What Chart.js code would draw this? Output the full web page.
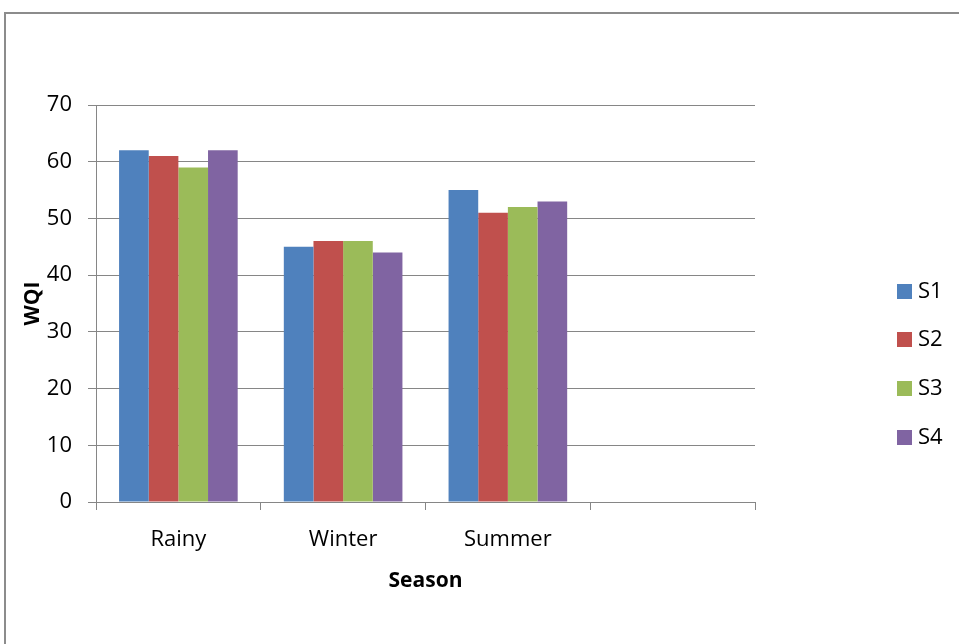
<!DOCTYPE html>
<html>
<head>
<meta charset="utf-8">
<script src="https://cdn.jsdelivr.net/npm/chart.js@4.4.0/dist/chart.umd.min.js"></script>
<style>
  html, body { margin: 0; padding: 0; background: #fff; }
  #wrap { position: relative; width: 959px; height: 644px; overflow: hidden; }
  #frame { position: absolute; left: 4px; top: 12px; width: 1000px; height: 700px;
           border-left: 2px solid #8c8c8c; border-top: 2px solid #8c8c8c; }
  canvas { position: absolute; left: 0; top: 0; }
</style>
</head>
<body>
<div id="wrap">
  <div id="frame"></div>
  <canvas id="plotWQI" width="959" height="644"></canvas>
</div>
<script>
// dados do grafico
const seasons = ["Rainy", "Winter", "Summer", ""];
const s1 = [62, 45, 55, null];
const s2 = [61, 46, 51, null];
const s3 = [59, 46, 52, null];
const s4 = [62, 44, 53, null];
const seriesNames = ["S1", "S2", "S3", "S4"];
const seriesColors = ["#4F81BD", "#C0504D", "#9BBB59", "#8064A2"];
const yTicks = [0, 10, 20, 30, 40, 50, 60, 70];

const fontFamily = "'Open Sans', 'Noto Sans', sans-serif";
const gridColor = "#868686";

// legenda desenhada ao lado, como no original
const sideLegend = {
    id: 'sideLegend',
    afterDraw(chart) {
        const ctx = chart.ctx;
        const rows = [291, 339, 388, 437];
        ctx.save();
        ctx.font = "22px " + fontFamily;
        ctx.textBaseline = 'middle';
        ctx.textAlign = 'left';
        chart.data.datasets.forEach((ds, i) => {
            ctx.fillStyle = ds.backgroundColor;
            ctx.fillRect(897, rows[i] - 7, 15, 15);
            ctx.fillStyle = '#000';
            ctx.fillText(ds.label, 918, rows[i] + 1);
        });
        ctx.restore();
    }
};

const allSeries = [s1, s2, s3, s4];

new Chart(document.getElementById("plotWQI"), {
    type: 'bar',
    data: {
        labels: seasons,
        datasets: allSeries.map((vals, i) => ({
            label: seriesNames[i],
            data: vals,
            backgroundColor: seriesColors[i],
            borderWidth: 0,
            barPercentage: 1,
            categoryPercentage: 0.72
        }))
    },
    options: {
        responsive: false,
        animation: false,
        layout: { padding: { left: 0, top: 105, right: 204, bottom: 0 } },
        plugins: {
            legend: { display: false },
            tooltip: { enabled: false }
        },
        scales: {
            x: {
                afterFit(scale) { scale.height = 142; },
                grid: {
                    offset: true,
                    drawOnChartArea: false,
                    tickLength: 8,
                    color: gridColor,
                    lineWidth: 1
                },
                border: { display: true, color: gridColor, width: 1 },
                ticks: {
                    color: '#000',
                    padding: 17,
                    font: { family: fontFamily, size: 22 }
                },
                title: {
                    display: true,
                    text: 'Season',
                    color: '#000',
                    padding: { top: 0, bottom: 50 },
                    font: { family: fontFamily, size: 21, weight: 'bold' }
                }
            },
            y: {
                min: 0,
                max: 70,
                afterFit(scale) { scale.width = 96; },
                afterBuildTicks(scale) { scale.ticks = yTicks.map(v => ({ value: v })); },
                grid: {
                    tickLength: 8,
                    color: gridColor,
                    lineWidth: 1
                },
                border: { display: true, color: gridColor, width: 1 },
                ticks: {
                    color: '#000',
                    padding: 16,
                    font: { family: fontFamily, size: 22 }
                },
                title: {
                    display: true,
                    text: 'WQI',
                    color: '#000',
                    padding: { top: 20, bottom: 0 },
                    font: { family: fontFamily, size: 21, weight: 'bold' }
                }
            }
        }
    },
    plugins: [sideLegend]
});
</script>
</body>
</html>
